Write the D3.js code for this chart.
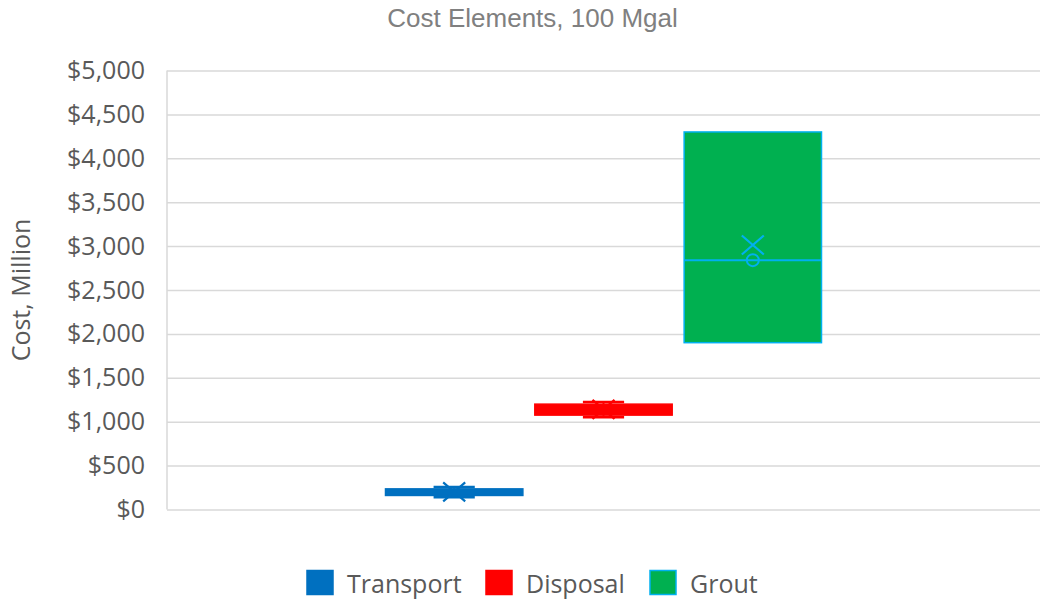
<!DOCTYPE html>
<html>
<head>
<meta charset="utf-8">
<script src="https://cdn.jsdelivr.net/npm/d3@7"></script>
<style>
  html, body { margin: 0; padding: 0; background: #fff; }
  svg { display: block; }
</style>
</head>
<body>
<svg id="chart" width="1041" height="602"></svg>
<script>
// Box-and-whisker summary per cost element (US$ million)
const seriesNames = ["Transport", "Disposal", "Grout"];
const mins    = [140, 1050, 1900];
const q1s     = [160, 1075, 1900];
const medians = [200, 1140, 2840];
const q3s     = [235, 1200, 4300];
const maxs    = [255, 1225, 4300];
const means   = [200, 1140, 3013];
// Interior data points shown as hollow circles
const innerPoints = [[], [], [2840]];

const tickValues = [0, 500, 1000, 1500, 2000, 2500, 3000, 3500, 4000, 4500, 5000];

const fills   = ["#0070C0", "#FF0000", "#00B050"];
const strokes = ["#0070C0", "#FF0000", "#00B0F0"];

const W = 1041, H = 602;
const plot = { left: 167, right: 1040, top: 70.5, bottom: 509.5 };
const svg = d3.select("#chart");

const y = d3.scaleLinear().domain([0, 5000]).range([plot.bottom, plot.top]);

const center = (plot.left + plot.right) / 2;
const x = d3.scaleBand()
  .domain(seriesNames)
  .range([center - 218, center + 218])
  .paddingInner(0.08);

// Title
svg.append("text")
  .attr("x", 532.5).attr("y", 27)
  .attr("text-anchor", "middle")
  .attr("font-family", "'Liberation Sans', Arial, sans-serif")
  .attr("font-size", 26)
  .attr("fill", "#808080")
  .text("Cost Elements, 100 Mgal");

// Gridlines
svg.append("g")
  .attr("transform", `translate(${plot.left},0)`)
  .call(d3.axisLeft(y).tickValues(tickValues).tickSize(-(plot.right - plot.left)).tickFormat(""))
  .call(g => g.select(".domain").remove())
  .call(g => g.selectAll(".tick line").attr("stroke", "#d9d9d9").attr("stroke-width", 1.5));

// Vertical axis line
svg.append("line")
  .attr("x1", plot.left).attr("x2", plot.left)
  .attr("y1", y(5000)).attr("y2", y(0))
  .attr("stroke", "#d9d9d9").attr("stroke-width", 1.5);

// Tick labels
svg.append("g")
  .attr("transform", `translate(${plot.left},0)`)
  .call(d3.axisLeft(y).tickValues(tickValues).tickSize(0).tickPadding(22).tickFormat(d3.format("$,")))
  .call(g => g.select(".domain").remove())
  .call(g => g.selectAll(".tick text")
    .attr("font-family", "'Open Sans', sans-serif")
    .attr("font-size", 25)
    .attr("fill", "#595959"));

// Axis title
svg.append("text")
  .attr("transform", `translate(30,${(plot.top + plot.bottom) / 2}) rotate(-90)`)
  .attr("text-anchor", "middle")
  .attr("font-family", "'Open Sans', sans-serif")
  .attr("font-size", 25)
  .attr("fill", "#595959")
  .text("Cost, Million");

// Boxes
const bw = x.bandwidth();
const capW = bw * 0.3;
const boxes = svg.append("g");
seriesNames.forEach((name, i) => {
  const g = boxes.append("g");
  const cx = x(name) + bw / 2;
  const col = strokes[i];

  // whiskers
  [[q3s[i], maxs[i]], [q1s[i], mins[i]]].forEach(([a, b]) => {
    if (a === b) return;
    g.append("line").attr("x1", cx).attr("x2", cx).attr("y1", y(a)).attr("y2", y(b))
      .attr("stroke", col).attr("stroke-width", 2);
    g.append("line").attr("x1", cx - capW / 2).attr("x2", cx + capW / 2).attr("y1", y(b)).attr("y2", y(b))
      .attr("stroke", col).attr("stroke-width", 2.5);
  });

  // box
  g.append("rect")
    .attr("x", x(name)).attr("width", bw)
    .attr("y", y(q3s[i])).attr("height", y(q1s[i]) - y(q3s[i]))
    .attr("fill", fills[i]).attr("stroke", col).attr("stroke-width", 1.5);

  // median
  g.append("line")
    .attr("x1", x(name)).attr("x2", x(name) + bw)
    .attr("y1", y(medians[i])).attr("y2", y(medians[i]))
    .attr("stroke", col).attr("stroke-width", 2);

  // inner points
  innerPoints[i].forEach(v => {
    g.append("circle").attr("cx", cx).attr("cy", y(v)).attr("r", 6)
      .attr("fill", "none").attr("stroke", col).attr("stroke-width", 2);
  });

  // mean marker
  const mx = 11, my = 9.5, my0 = y(means[i]);
  g.append("path")
    .attr("d", `M${cx - mx},${my0 - my}L${cx + mx},${my0 + my}M${cx + mx},${my0 - my}L${cx - mx},${my0 + my}`)
    .attr("stroke", col).attr("stroke-width", 2.2).attr("fill", "none");
});

// Legend
const legendX = [307, 486, 650];
const legend = svg.append("g");
seriesNames.forEach((name, i) => {
  legend.append("rect")
    .attr("x", legendX[i]).attr("y", 570.5).attr("width", 26).attr("height", 24)
    .attr("fill", fills[i]).attr("stroke", strokes[i]).attr("stroke-width", 1.5);
  legend.append("text")
    .attr("x", legendX[i] + 40).attr("y", 593)
    .attr("font-family", "'Open Sans', sans-serif")
    .attr("font-size", 25)
    .attr("fill", "#595959")
    .text(name);
});
</script>
</body>
</html>
